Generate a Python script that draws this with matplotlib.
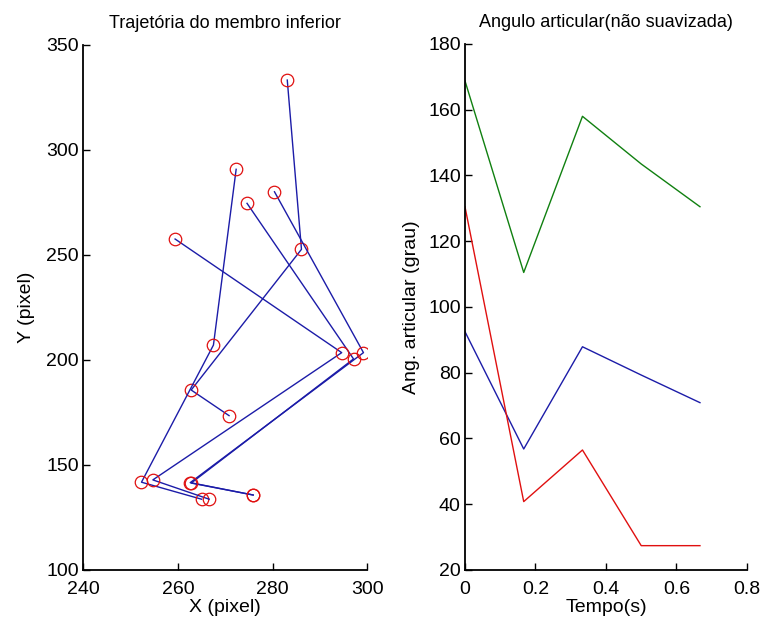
import matplotlib
matplotlib.use('Agg')
import matplotlib.pyplot as plt

plt.rcParams['font.family'] = ['Liberation Sans', 'DejaVu Sans']

# lower limb points per frame: hip, knee, ankle, toe
hip_x = [283.1, 272.3, 280.4, 274.6, 259.4]
hip_y = [333.3, 290.8, 280.1, 274.6, 257.6]
knee_x = [286.1, 267.5, 299.2, 297.1, 294.6]
knee_y = [252.7, 207.1, 203.5, 200.5, 203.5]
ankle_x = [262.8, 252.3, 262.6, 262.8, 254.7]
ankle_y = [185.7, 141.8, 141.6, 141.4, 142.9]
toe_x = [270.8, 265.0, 275.9, 275.9, 266.6]
toe_y = [173.5, 133.7, 135.7, 135.7, 133.7]

# joint angles (not smoothed)
tempo = [0, 1/6, 2/6, 3/6, 4/6]
ang_blue = [92.5, 56.8, 87.9, 79.3, 70.9]
ang_green = [168.8, 110.5, 158.0, 143.5, 130.5]
ang_red = [130.5, 40.8, 56.5, 27.4, 27.4]

fig = plt.figure(figsize=(7.64, 6.31), dpi=100)
fs_title = 13
fs = 14

ax1 = fig.add_axes([0.1090, 0.0967, 0.3717, 0.8320])
for i in range(len(hip_x)):
    xs = [hip_x[i], knee_x[i], ankle_x[i], toe_x[i]]
    ys = [hip_y[i], knee_y[i], ankle_y[i], toe_y[i]]
    ax1.plot(xs, ys, color='#1c1ca8', lw=1.0)
    ax1.plot(xs, ys, 'o', ms=9, mfc='none', mec='#e01010', mew=0.9)
ax1.set_xlim(240, 300)
ax1.set_ylim(100, 350)
ax1.set_xticks([240, 260, 280, 300])
ax1.set_yticks([100, 150, 200, 250, 300, 350])
ax1.set_title('Trajetória do membro inferior', fontsize=fs_title, pad=12)
ax1.set_xlabel('X (pixel)', fontsize=fs, labelpad=1)
ax1.set_ylabel('Y (pixel)', fontsize=fs, labelpad=8)

ax2 = fig.add_axes([0.6086, 0.0967, 0.3691, 0.8336])
ax2.plot(tempo, ang_blue, color='#1c1ca8', lw=1.0)
ax2.plot(tempo, ang_green, color='#108010', lw=1.0)
ax2.plot(tempo, ang_red, color='#e01010', lw=1.0)
ax2.set_xlim(0, 0.8)
ax2.set_ylim(20, 180)
ax2.set_xticks([0, 0.2, 0.4, 0.6, 0.8])
ax2.set_xticklabels(['0', '0.2', '0.4', '0.6', '0.8'])
ax2.set_yticks(range(20, 181, 20))
ax2.set_title('Angulo articular(não suavizada)', fontsize=fs_title, pad=12)
ax2.set_xlabel('Tempo(s)', fontsize=fs, labelpad=1)
ax2.set_ylabel('Ang. articular (grau)', fontsize=fs, labelpad=6)

for ax in (ax1, ax2):
    ax.spines['top'].set_visible(False)
    ax.spines['right'].set_visible(False)
    ax.spines['left'].set_linewidth(1.3)
    ax.spines['bottom'].set_linewidth(1.3)
    ax.tick_params(direction='in', length=5, width=1.0, labelsize=fs)
    ax.tick_params(axis='x', pad=8)
    ax.tick_params(axis='y', pad=3)

fig.savefig('out.png', dpi=100)
